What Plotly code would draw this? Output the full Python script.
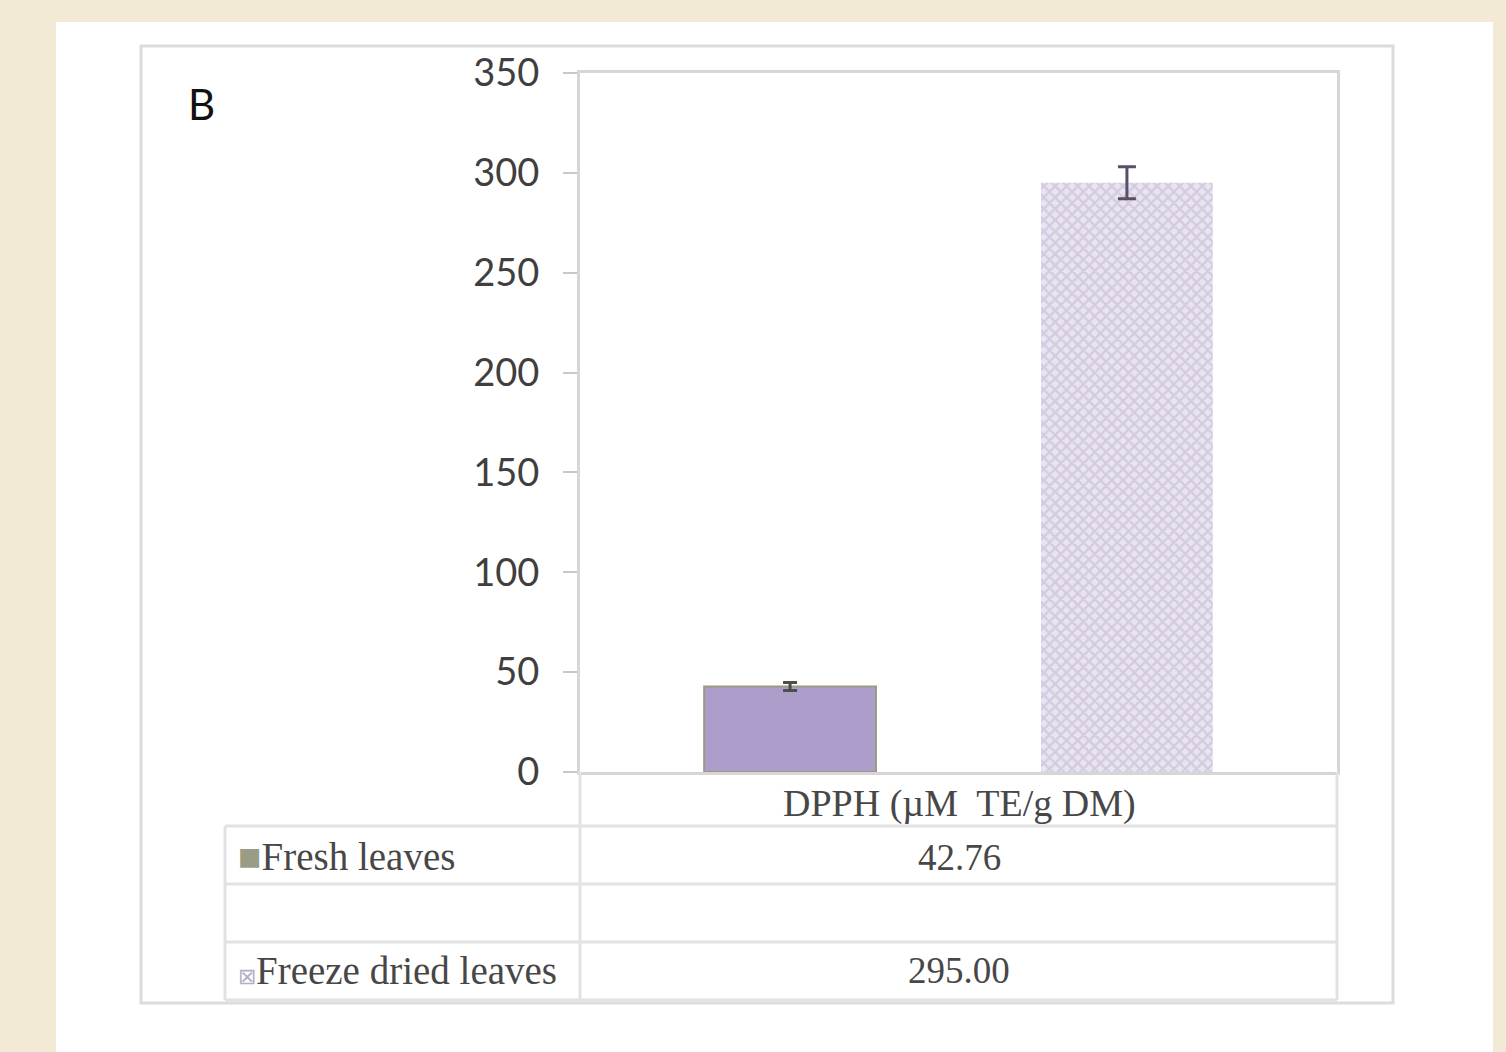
import plotly.graph_objects as go

# ---- data ----
category = ["DPPH (µM  TE/g DM)"]
series_names = ["Fresh leaves", "Freeze dried leaves"]
values = [42.76, 295.00]
errors = [2.0, 8.0]
y_ticks = [0, 50, 100, 150, 200, 250, 300, 350]
panel_label = "B"

W, H = 1506, 1052
L, R, T, B = 580, 1337, 73, 772  # plot area in pixels


def px(x):
    return (x - L) / (R - L)


def py(y):
    return (B - y) / (B - T)


fig = go.Figure()

fig.add_trace(go.Bar(
    x=category, y=[values[0]], name=series_names[0],
    marker=dict(color="#ac9dca", line=dict(color="#9d9a84", width=2)),
    error_y=dict(type="data", array=[errors[0]], color="#4d4d4d", thickness=3, width=7),
    showlegend=False,
))
fig.add_trace(go.Bar(
    x=category, y=[values[1]], name=series_names[1],
    marker=dict(color="#ffffff", line=dict(color="#ffffff", width=0),
                pattern=dict(shape="x", fgcolor="#bdb1d0", bgcolor="#e9e4f0", size=8, solidity=0.5)),
    error_y=dict(type="data", array=[errors[1]], color="#5a5066", thickness=3, width=9),
    showlegend=False,
))

shapes = []
# white panel
shapes.append(dict(type="rect", xref="paper", yref="paper", x0=px(56), x1=px(1493), y0=py(22), y1=py(1060),
                   fillcolor="white", line=dict(width=0), layer="below"))
# chart outer border
shapes.append(dict(type="rect", xref="paper", yref="paper", x0=px(141), x1=px(1393), y0=py(46), y1=py(1003),
                   fillcolor="rgba(0,0,0,0)", line=dict(color="#dcdcdc", width=3), layer="below"))
# data table lines
line_c = "#e2e2e2"
for yy in [826, 884, 942, 1000]:
    shapes.append(dict(type="line", xref="paper", yref="paper", x0=px(225), x1=px(R), y0=py(yy), y1=py(yy),
                       line=dict(color=line_c, width=3)))
for xx, y0 in [(225, 826), (L, 772), (R, 772)]:
    shapes.append(dict(type="line", xref="paper", yref="paper", x0=px(xx), x1=px(xx), y0=py(y0), y1=py(1000),
                       line=dict(color=line_c, width=3)))

annotations = []
annotations.append(dict(text=panel_label, xref="paper", yref="paper", x=px(201), y=py(104),
                        xanchor="center", yanchor="middle", showarrow=False,
                        font=dict(family="Lato", size=42, color="#111111")))
serif = "Liberation Serif"
txt_c = "#474747"
# category label in header row of the data table
annotations.append(dict(text=category[0], xref="paper", yref="paper", x=px(959), y=py(803),
                        xanchor="center", yanchor="middle", showarrow=False,
                        font=dict(family=serif, size=38, color=txt_c)))
keys = ["<span style='color:#9a9c86'>■</span>", "<span style='color:#b8aec8;font-size:22px'>⊠</span>"]
rows_y = [856, 970]
for i in range(2):
    annotations.append(dict(text=keys[i] + series_names[i], xref="paper", yref="paper", x=px(236), y=py(rows_y[i]),
                            xanchor="left", yanchor="middle", showarrow=False,
                            font=dict(family=serif, size=39, color=txt_c)))
    annotations.append(dict(text=f"{values[i]:.2f}", xref="paper", yref="paper", x=px(959), y=py(rows_y[i] + 1),
                            xanchor="center", yanchor="middle", showarrow=False,
                            font=dict(family=serif, size=37, color=txt_c)))

fig.update_layout(
    width=W, height=H,
    margin=dict(l=L, r=W - R, t=T, b=H - B),
    paper_bgcolor="#f3ead6",
    plot_bgcolor="rgba(0,0,0,0)",
    barmode="group", bargap=0.11, bargroupgap=0.49,
    shapes=shapes, annotations=annotations,
    xaxis=dict(showgrid=False, showline=True, linecolor="#d6d6d6", linewidth=3, mirror=True,
               ticks="", showticklabels=False),
    yaxis=dict(range=[0, 350], tickvals=y_ticks, showgrid=False, zeroline=False,
               showline=True, linecolor="#d6d6d6", linewidth=3, mirror=True,
               ticks="outside", ticklen=14, tickwidth=2, tickcolor="#c8c8c8",
               ticklabelstandoff=16,
               tickfont=dict(family="Lato", size=38, color="#3f3f3f")),
)

fig.write_html("out.html")
